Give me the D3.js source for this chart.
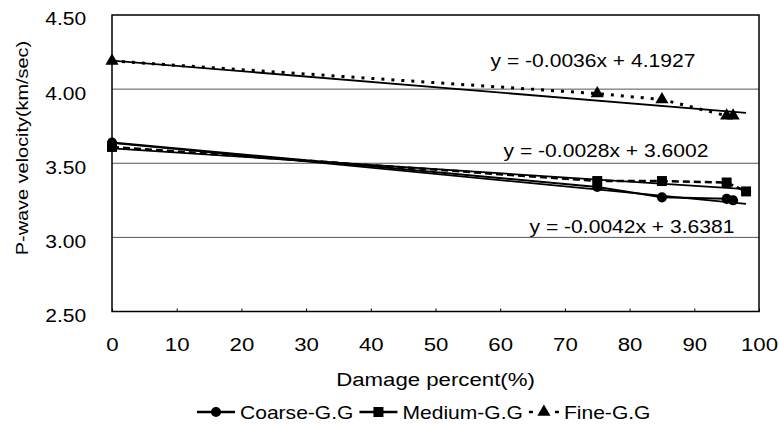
<!DOCTYPE html>
<html>
<head>
<meta charset="utf-8">
<script src="https://cdn.jsdelivr.net/npm/d3@7/dist/d3.min.js"></script>
<style>
  html, body { margin: 0; padding: 0; background: #fff; }
  svg { display: block; font-family: "Liberation Sans", Arial, Helvetica, sans-serif; }
</style>
</head>
<body>
<svg id="chart" width="779" height="425"></svg>
<script>
// ---- data ----
const seriesNames = ["Coarse-G.G", "Medium-G.G", "Fine-G.G"];
const damageCoarse = [0, 75, 85, 95, 96];
const velocityCoarse = [3.64, 3.34, 3.27, 3.26, 3.25];
const damageMedium = [0, 75, 85, 95, 98];
const velocityMedium = [3.61, 3.38, 3.38, 3.37, 3.31];
const damageFine = [0, 75, 85, 95, 96];
const velocityFine = [4.19, 3.97, 3.93, 3.82, 3.82];
const trendSlopes = [-0.0042, -0.0028, -0.0036];
const trendIntercepts = [3.6381, 3.6002, 4.1927];
const trendRange = [0, 98];
const trendLabels = ["y = -0.0042x + 3.6381", "y = -0.0028x + 3.6002", "y = -0.0036x + 4.1927"];
const xTicks = [0, 10, 20, 30, 40, 50, 60, 70, 80, 90, 100];
const yTicks = [2.5, 3.0, 3.5, 4.0, 4.5];
const xTitle = "Damage percent(%)";
const yTitle = "P-wave velocity(km/sec)";

// ---- layout ----
const SX = 1.17; // horizontal text stretch of the original
const svg = d3.select("#chart");
const x = d3.scaleLinear().domain([0, 100]).range([112, 759]);
const y = d3.scaleLinear().domain([2.5, 4.5]).range([311.5, 15]);

function stretchedText(parent, tx, ty, str, size, anchor, rotate) {
  const g = parent.append("g")
    .attr("transform", `translate(${tx},${ty})` + (rotate ? ` rotate(${rotate})` : "") + ` scale(${SX},1)`);
  return g.append("text").attr("x", 0).attr("y", 0)
    .attr("font-size", size).attr("text-anchor", anchor).attr("fill", "#000").text(str);
}

// gridlines
svg.append("g").selectAll("line").data(yTicks.filter(v => v > 2.5 && v < 4.5)).join("line")
  .attr("x1", x(0)).attr("x2", x(100))
  .attr("y1", d => y(d)).attr("y2", d => y(d))
  .attr("stroke", "#555").attr("stroke-width", 1);

// plot border
svg.append("rect")
  .attr("x", x(0)).attr("y", y(4.5))
  .attr("width", x(100) - x(0)).attr("height", y(2.5) - y(4.5))
  .attr("fill", "none").attr("stroke", "#000").attr("stroke-width", 1.5);

// x axis
const xAxis = svg.append("g").attr("transform", `translate(0,${y(2.5)})`)
  .call(d3.axisBottom(x).tickValues(xTicks).tickSize(-3).tickPadding(0).tickFormat(d3.format("d")));
xAxis.select(".domain").remove();
xAxis.selectAll(".tick line").attr("stroke", "#000");
xAxis.selectAll(".tick text")
  .attr("font-size", 19).attr("font-family", "Liberation Sans, Arial, sans-serif")
  .attr("fill", "#000").attr("y", 40).attr("dy", 0)
  .attr("transform", `scale(${SX},1)`);

// y axis
const yAxis = svg.append("g").attr("transform", `translate(${x(0)},0)`)
  .call(d3.axisLeft(y).tickValues(yTicks).tickSize(0).tickPadding(0).tickFormat(d3.format(".2f")));
yAxis.select(".domain").remove();
yAxis.selectAll(".tick text")
  .attr("font-size", 18).attr("font-family", "Liberation Sans, Arial, sans-serif")
  .attr("fill", "#000").attr("x", -22).attr("dy", "0.55em")
  .attr("transform", `scale(${SX},1)`);

// titles
stretchedText(svg, (x(0) + x(100)) / 2, 386, xTitle, 19, "middle");
stretchedText(svg, 28, 148, yTitle, 17, "middle", -90);

// series
const series = [
  { name: seriesNames[0], xs: damageCoarse, ys: velocityCoarse, dash: null, width: 2, marker: "circle" },
  { name: seriesNames[1], xs: damageMedium, ys: velocityMedium, dash: "7,4", width: 2.5, marker: "square" },
  { name: seriesNames[2], xs: damageFine, ys: velocityFine, dash: "3,7", width: 3, marker: "triangle" }
];
const symbolGen = {
  circle: d3.symbol().type(d3.symbolCircle).size(80),
  square: d3.symbol().type(d3.symbolSquare).size(100),
  triangle: d3.symbol().type(d3.symbolTriangle).size(75)
};

const line = d3.line().x(d => x(d[0])).y(d => y(d[1]));

// trend lines
trendSlopes.forEach((m, i) => {
  const pts = trendRange.map(v => [v, m * v + trendIntercepts[i]]);
  svg.append("path").attr("d", line(pts))
    .attr("fill", "none").attr("stroke", "#000").attr("stroke-width", 1.8);
});

series.forEach(s => {
  const pts = s.xs.map((v, i) => [v, s.ys[i]]);
  svg.append("path").attr("d", line(pts))
    .attr("fill", "none").attr("stroke", "#000").attr("stroke-width", s.width)
    .attr("stroke-dasharray", s.dash);
  svg.append("g").selectAll("path").data(pts).join("path")
    .attr("d", symbolGen[s.marker])
    .attr("transform", d => `translate(${x(d[0])},${y(d[1])})`)
    .attr("fill", "#000");
});

// trend equations
const eqPos = [[632, 233], [606, 157], [593, 67]];
trendLabels.forEach((t, i) => stretchedText(svg, eqPos[i][0], eqPos[i][1], t, 18, "middle"));

// legend
const legend = svg.append("g");
let lx = 197;
const ly = 412;
series.forEach((s, i) => {
  const w = s.marker === "triangle" ? 30 : 38;
  legend.append("line").attr("x1", lx).attr("x2", lx + w).attr("y1", ly).attr("y2", ly)
    .attr("stroke", "#000").attr("stroke-width", 2.5)
    .attr("stroke-dasharray", s.marker === "triangle" ? "4,9,4,9,4" : null);
  legend.append("path").attr("d", symbolGen[s.marker])
    .attr("transform", `translate(${lx + w / 2},${ly})`).attr("fill", "#000");
  lx += w + 5;
  const t = stretchedText(legend, lx, 419, s.name, 18, "start");
  lx += t.node().getComputedTextLength() * SX + 6;
});
</script>
</body>
</html>
